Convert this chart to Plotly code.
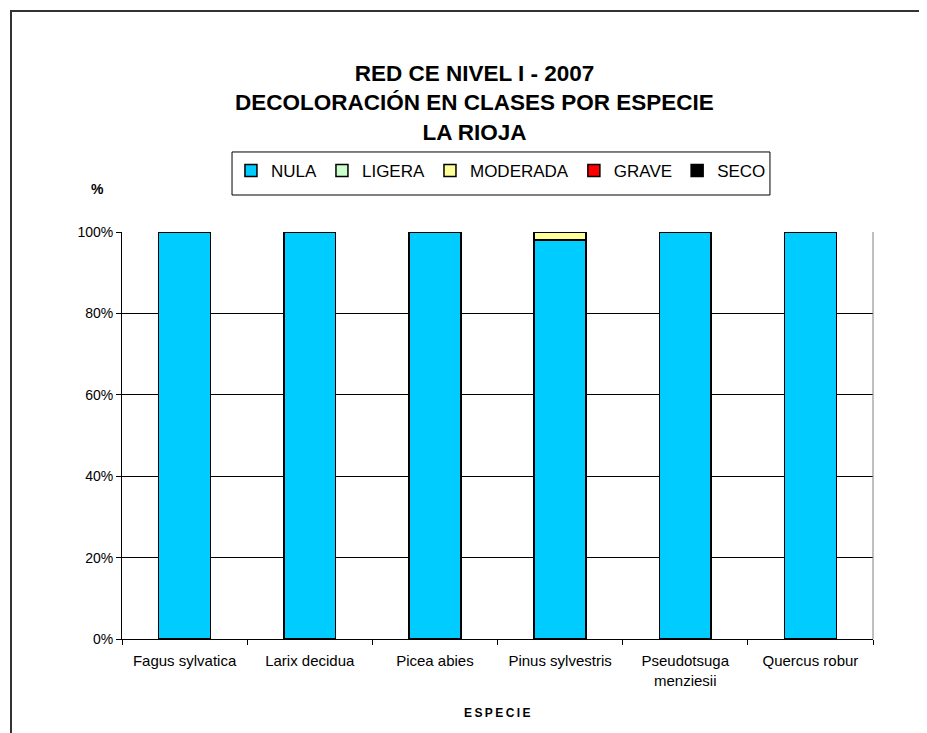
import plotly.graph_objects as go

species = ["Fagus sylvatica", "Larix decidua", "Picea abies", "Pinus sylvestris",
           "Pseudotsuga<br>menziesii", "Quercus robur"]
nula = [100, 100, 100, 98, 100, 100]
ligera = [0, 0, 0, 0, 0, 0]
moderada = [0, 0, 0, 2, 0, 0]
grave = [0, 0, 0, 0, 0, 0]
seco = [0, 0, 0, 0, 0, 0]

series = [
    ("NULA", nula, "#00CCFF"),
    ("LIGERA", ligera, "#CCFFCC"),
    ("MODERADA", moderada, "#FFFF99"),
    ("GRAVE", grave, "#FF0000"),
    ("SECO", seco, "#000000"),
]

FONT = "Liberation Sans, Arial, sans-serif"

fig = go.Figure()
for name, vals, color in series:
    fig.add_trace(go.Bar(
        x=species, y=vals, name=name,
        marker=dict(color=color, line=dict(color="#000000", width=1.5)),
    ))

# page body has an 8px margin, so the figure is a bit smaller than the window
fig.update_layout(
    width=919, height=725,
    barmode="stack", bargap=0.585,
    paper_bgcolor="white", plot_bgcolor="white",
    margin=dict(l=114, r=54, t=224, b=94),
    font=dict(family=FONT, color="#000000", size=14),
    title=dict(
        text="RED CE NIVEL I - 2007<br>DECOLORACIÓN EN CLASES POR ESPECIE<br>LA RIOJA",
        x=0.5076, xanchor="center", y=0.899, yanchor="top",
        font=dict(family=FONT, size=22.5, color="#000000", weight="bold"),
    ),
    legend=dict(
        orientation="h", x=0.5046, xanchor="center", y=1.15, yanchor="middle",
        borderwidth=0, bgcolor="rgba(0,0,0,0)",
        font=dict(family=FONT, size=17), itemwidth=30,
        traceorder="normal",
    ),
    showlegend=True,
)

fig.update_yaxes(
    range=[0, 100], tickvals=[0, 20, 40, 60, 80, 100],
    ticktext=["0%", "20%", "40%", "60%", "80%", "100%"],
    showgrid=True, gridcolor="#000000", gridwidth=1,
    showline=True, linecolor="#000000", linewidth=1,
    ticks="outside", ticklen=5, tickcolor="#000000",
    tickfont=dict(size=14), zeroline=False,
)
fig.update_xaxes(
    showline=True, linecolor="#000000", linewidth=1,
    ticks="outside", ticklen=5, tickcolor="#000000", tickson="boundaries",
    tickfont=dict(size=15), ticklabelstandoff=8,
)

# plot area right border, legend box and outer chart frame
fig.add_shape(type="line", xref="paper", yref="paper", x0=1, x1=1, y0=0, y1=1,
              line=dict(color="#808080", width=1))
fig.add_shape(type="rect", xref="paper", yref="paper",
              x0=0.1465, x1=0.8628, y0=1.0909, y1=1.1966,
              line=dict(color="#000000", width=1))
fig.add_shape(type="path", xref="paper", yref="paper",
              path="M -0.1478 -0.3 L -0.1478 1.543 L 1.1 1.543",
              line=dict(color="#333333", width=2))

fig.add_annotation(text="<b>%</b>", xref="paper", yref="paper",
                   x=-0.0437, y=1.130, showarrow=False, font=dict(size=14))
fig.add_annotation(text="<b>E\u2009S\u2009P\u2009E\u2009C\u2009I\u2009E</b>",
                   xref="paper", yref="paper",
                   x=0.4993, y=-0.204, showarrow=False, font=dict(size=12))

fig.write_html("out.html")
